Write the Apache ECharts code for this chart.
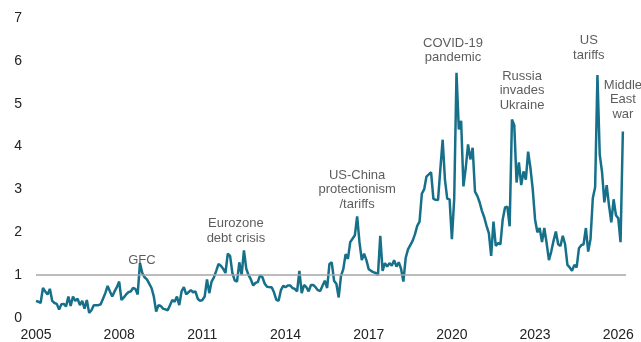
<!DOCTYPE html>
<html>
<head>
<meta charset="utf-8">
<script src="https://cdn.jsdelivr.net/npm/echarts@6/dist/echarts.min.js"></script>
<style>
  html, body { margin: 0; padding: 0; background: #fff; }
  #chart { width: 641px; height: 342px; }
</style>
</head>
<body>
<div id="chart"></div>
<script>
  // monthly index values, Jan 2005 .. Mar 2026 (one row per year)
  var startYear = 2005;
  var riskIndex = [
    0.40, 0.38, 0.35, 0.70, 0.62, 0.55, 0.68, 0.40, 0.35, 0.33, 0.20, 0.32, // 2005
    0.33, 0.27, 0.50, 0.28, 0.50, 0.40, 0.45, 0.30, 0.40, 0.22, 0.42, 0.12, // 2006
    0.18, 0.30, 0.30, 0.30, 0.32, 0.45, 0.58, 0.75, 0.62, 0.50, 0.62, 0.72, // 2007
    0.85, 0.42, 0.48, 0.55, 0.60, 0.62, 0.70, 0.68, 0.55, 1.28, 1.05, 0.95, // 2008
    0.90, 0.80, 0.70, 0.50, 0.15, 0.30, 0.28, 0.22, 0.20, 0.18, 0.30, 0.42, // 2009
    0.38, 0.50, 0.30, 0.62, 0.72, 0.55, 0.60, 0.65, 0.60, 0.62, 0.45, 0.40, // 2010
    0.42, 0.50, 0.90, 0.58, 0.85, 0.95, 1.10, 1.26, 1.22, 1.15, 1.05, 1.50, // 2011
    1.45, 1.05, 0.88, 0.85, 1.30, 1.00, 1.58, 1.15, 1.00, 0.90, 0.76, 0.82, // 2012
    0.84, 1.00, 0.95, 0.80, 0.73, 0.72, 0.72, 0.60, 0.43, 0.40, 0.65, 0.75, // 2013
    0.72, 0.76, 0.76, 0.70, 0.68, 0.62, 1.10, 0.58, 0.77, 0.72, 0.62, 0.77, // 2014
    0.77, 0.72, 0.65, 0.63, 0.75, 0.87, 0.70, 1.26, 1.30, 0.87, 0.80, 0.48, // 2015
    0.98, 1.14, 1.49, 1.38, 1.77, 1.85, 1.93, 2.37, 1.77, 1.35, 1.50, 1.35, // 2016
    1.14, 1.10, 1.07, 1.05, 1.00, 1.92, 1.10, 1.28, 1.20, 1.28, 1.22, 1.35, // 2017
    1.20, 1.30, 1.15, 0.85, 1.40, 1.60, 1.70, 1.80, 1.95, 2.15, 2.25, 2.90, // 2018
    3.00, 3.30, 3.35, 3.40, 2.78, 2.76, 2.75, 3.47, 4.16, 3.23, 2.78, 2.77, // 2019
    1.84, 2.77, 5.72, 4.40, 4.60, 3.07, 3.50, 4.05, 3.70, 3.97, 2.95, 2.85, // 2020
    2.70, 2.50, 2.35, 2.15, 1.98, 1.45, 2.25, 1.68, 1.75, 1.72, 2.30, 2.58, // 2021
    2.60, 2.14, 4.63, 4.50, 3.16, 3.63, 3.10, 3.42, 3.23, 3.88, 3.50, 3.00, // 2022
    2.30, 2.00, 2.10, 1.77, 2.10, 1.75, 1.35, 1.55, 1.80, 2.02, 1.72, 1.68, // 2023
    1.92, 1.72, 1.24, 1.18, 1.10, 1.24, 1.18, 1.63, 1.70, 1.72, 2.10, 1.55, // 2024
    1.84, 2.80, 3.05, 5.67, 3.81, 3.40, 2.70, 3.10, 2.63, 2.23, 2.77, 2.40, // 2025
    2.33, 1.77, 4.35                                                        // 2026
  ];

  // event annotations: text and anchor (year, index level) of the text centre
  var eventText = ['GFC', 'Eurozone\ndebt crisis', 'US-China\nprotectionism\n/tariffs',
    'COVID-19\npandemic', 'Russia\ninvades\nUkraine', 'US\ntariffs', 'Middle\nEast\nwar'];
  var eventYear = [2008.82, 2012.21, 2016.58, 2020.04, 2022.53, 2024.94, 2026.17];
  var eventLevel = [1.35, 2.03, 3.0, 6.24, 5.31, 6.30, 5.09];

  var lineData = riskIndex.map(function (v, i) {
    return [startYear + i / 12, v];
  });
  var eventData = eventText.map(function (t, i) {
    return { name: t, value: [eventYear[i], eventLevel[i]] };
  });

  var myChart = echarts.init(document.getElementById('chart'));
  myChart.setOption({
    animation: false,
    textStyle: { fontFamily: '"Liberation Sans", Arial, sans-serif' },
    grid: { left: 36, right: 15, top: 18, bottom: 23 },
    xAxis: {
      type: 'value',
      min: 2005,
      max: 2026.28,
      interval: 3,
      axisLine: { show: false },
      axisTick: { show: false },
      splitLine: { show: false },
      axisLabel: {
        color: '#222',
        fontSize: 14,
        margin: 10,
        formatter: function (v) {
          return (v - 2005) % 3 === 0 ? String(v) : '';
        }
      }
    },
    yAxis: {
      type: 'value',
      min: 0,
      max: 7,
      interval: 1,
      axisLine: { show: false },
      axisTick: { show: false },
      splitLine: { show: false },
      axisLabel: { color: '#222', fontSize: 14, margin: 14 }
    },
    series: [
      {
        // reference line at 1
        type: 'line',
        z: 1,
        data: [],
        markLine: {
          silent: true,
          symbol: 'none',
          label: { show: false },
          lineStyle: { color: '#a6a6a6', type: 'solid', width: 1.5 },
          data: [{ yAxis: 1 }]
        }
      },
      {
        type: 'line',
        z: 3,
        data: lineData,
        showSymbol: false,
        lineStyle: { color: '#16708a', width: 2.5 }
      },
      {
        type: 'scatter',
        z: 4,
        data: eventData,
        symbolSize: 0,
        label: {
          show: true,
          position: 'inside',
          formatter: '{b}',
          color: '#333',
          fontSize: 13,
          lineHeight: 14.5,
          align: 'center'
        }
      }
    ]
  });
</script>
</body>
</html>
